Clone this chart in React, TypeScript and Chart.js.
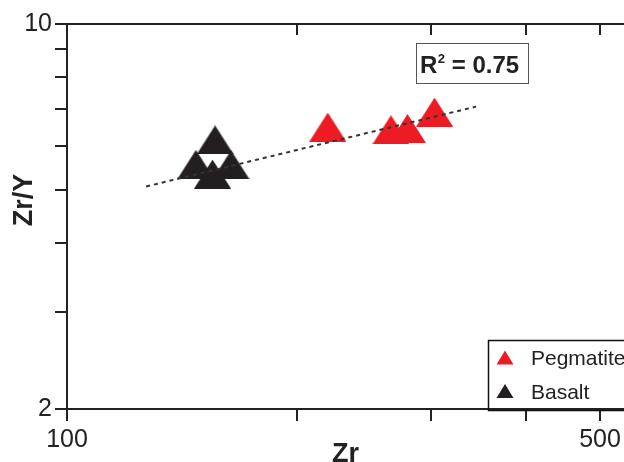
import React, { useEffect, useRef } from 'react';
import { Chart, registerables } from 'chart.js';

Chart.register(...registerables);

// ---- data ----
const seriesNames = ['Pegmatite', 'Basalt'];
const seriesColors = ['#ed1c24', '#231f20'];
const pegmatiteZr = [219.8, 266.0, 279.6, 303.4];
const pegmatiteZrY = [6.5, 6.43, 6.46, 6.92];
const basaltZr = [147.6, 164.1, 155.2, 156.4];
const basaltZrY = [5.56, 5.55, 5.34, 6.16];
const trendZr = [127, 344];
const trendZrY = [5.07, 7.08];
const xTickValues = [100, 200, 300, 400, 500];
const xTickLabels = ['100', '', '', '', '500'];
const yTickValues = [2, 3, 4, 5, 6, 7, 8, 9, 10];
const yTickLabels = ['2', '', '', '', '', '', '', '', '10'];
const xTitle = 'Zr';
const yTitle = 'Zr/Y';
const rSquaredValue = '0.75';

const FONT = "'Liberation Sans', Arial, Helvetica, sans-serif";
const INK = '#222222';

function makeTriangle(color: string, w: number, h: number) {
  const c = document.createElement('canvas');
  c.width = w;
  c.height = h;
  const g = c.getContext('2d')!;
  g.fillStyle = color;
  g.beginPath();
  g.moveTo(w / 2, 0);
  g.lineTo(w, h);
  g.lineTo(0, h);
  g.closePath();
  g.fill();
  return c;
}

function drawTri(ctx: CanvasRenderingContext2D, cx: number, cy: number, w: number, h: number, color: string) {
  ctx.fillStyle = color;
  ctx.beginPath();
  ctx.moveTo(cx, cy - h / 2);
  ctx.lineTo(cx + w / 2, cy + h / 2);
  ctx.lineTo(cx - w / 2, cy + h / 2);
  ctx.closePath();
  ctx.fill();
}

const extrasPlugin = {
  id: 'extras',
  afterDraw(chart: any) {
    const ctx: CanvasRenderingContext2D = chart.ctx;
    ctx.save();
    // y axis title
    ctx.save();
    ctx.translate(25, 200);
    ctx.rotate(-Math.PI / 2);
    ctx.font = `bold 27px ${FONT}`;
    ctx.fillStyle = INK;
    ctx.textAlign = 'center';
    ctx.textBaseline = 'middle';
    ctx.fillText(yTitle, 0, 0);
    ctx.restore();

    // R^2 box
    ctx.strokeStyle = '#555';
    ctx.lineWidth = 1;
    ctx.strokeRect(416.5, 43.5, 112, 40);
    ctx.fillStyle = INK;
    ctx.textAlign = 'left';
    ctx.textBaseline = 'alphabetic';
    ctx.font = `bold 24px ${FONT}`;
    let x = 420;
    ctx.fillText('R', x, 73);
    x += ctx.measureText('R').width;
    ctx.font = `bold 13px ${FONT}`;
    ctx.fillText('2', x + 0.5, 63);
    x += ctx.measureText('2').width + 0.5;
    ctx.font = `bold 24px ${FONT}`;
    ctx.fillText(' = ' + rSquaredValue, x, 73);

    // legend
    const lx = 488.5, ly = 340.5;
    ctx.strokeStyle = '#111';
    ctx.lineWidth = 1.5;
    ctx.strokeRect(lx, ly, 160, 70);
    const ds = chart.data.datasets.filter((d: any) => d.label && seriesNames.includes(d.label));
    ds.forEach((d: any, i: number) => {
      const cy = 357.5 + i * 33.5;
      drawTri(ctx, 505, cy, 17, 14, d.backgroundColor);
      ctx.fillStyle = INK;
      ctx.font = `21px ${FONT}`;
      ctx.textBaseline = 'alphabetic';
      ctx.fillText(d.label, 531, cy + 7.5);
    });
    ctx.restore();
  },
};

export default function App() {
  const ref = useRef<HTMLCanvasElement>(null);
  useEffect(() => {
    const redTri = makeTriangle(seriesColors[0], 37, 29);
    const blackTri = makeTriangle(seriesColors[1], 37, 29);
    const pegData = pegmatiteZr.map((v, i) => ({ x: v, y: pegmatiteZrY[i] }));
    const basData = basaltZr.map((v, i) => ({ x: v, y: basaltZrY[i] }));
    const trendData = trendZr.map((v, i) => ({ x: v, y: trendZrY[i] }));

    const fixTicks = (values: number[]) => (scale: any) => {
      scale.ticks = values.map((v) => ({ value: v }));
    };
    const gridCfg = {
      drawOnChartArea: false,
      drawTicks: true,
      tickLength: 12,
      color: INK,
      lineWidth: 2,
    };
    const borderCfg = { display: true, color: INK, width: 2 };

    const chart = new Chart(ref.current!, {
      type: 'scatter',
      data: {
        datasets: [
          {
            label: 'trend',
            data: trendData,
            showLine: true,
            borderColor: '#333',
            borderWidth: 2,
            borderDash: [4, 4],
            pointRadius: 0,
            fill: false,
          },
          {
            label: seriesNames[0],
            data: pegData,
            backgroundColor: seriesColors[0],
            borderColor: seriesColors[0],
            pointStyle: redTri,
            pointRadius: 12,
          },
          {
            label: seriesNames[1],
            data: basData,
            backgroundColor: seriesColors[1],
            borderColor: seriesColors[1],
            pointStyle: blackTri,
            pointRadius: 12,
          },
        ],
      } as any,
      options: {
        responsive: false,
        devicePixelRatio: 1,
        animation: false,
        layout: { autoPadding: false, padding: { top: 24, left: 0, right: 0, bottom: 0 } },
        plugins: {
          legend: { display: false },
          tooltip: { enabled: false },
        },
        scales: {
          x: {
            type: 'logarithmic',
            position: 'bottom',
            min: 100,
            max: 537.6,
            afterBuildTicks: fixTicks(xTickValues),
            afterFit: (s: any) => {
              s.height = 53;
              s.paddingLeft = 0;
              s.paddingRight = 0;
            },
            grid: gridCfg,
            border: borderCfg,
            ticks: {
              autoSkip: false,
              maxRotation: 0,
              padding: 4,
              color: INK,
              font: { size: 25, family: FONT },
              callback: (_v: any, i: number) => xTickLabels[i],
            },
            title: {
              display: true,
              text: xTitle,
              color: INK,
              font: { size: 27, weight: 'bold', family: FONT, lineHeight: 0.56 },
              padding: 0,
            },
          },
          xTop: {
            type: 'logarithmic',
            position: 'top',
            min: 100,
            max: 537.6,
            afterBuildTicks: fixTicks(xTickValues),
            afterFit: (s: any) => {
              s.height = 0;
              s.paddingLeft = 0;
              s.paddingRight = 0;
            },
            grid: { ...gridCfg, tickLength: -11 },
            border: borderCfg,
            ticks: { display: false },
          },
          y: {
            type: 'logarithmic',
            position: 'left',
            min: 2,
            max: 10,
            afterBuildTicks: fixTicks(yTickValues),
            afterFit: (s: any) => {
              s.width = 67;
              s.paddingTop = 0;
              s.paddingBottom = 0;
            },
            grid: gridCfg,
            border: borderCfg,
            ticks: {
              autoSkip: false,
              padding: 3,
              color: INK,
              font: { size: 25, family: FONT },
              callback: (_v: any, i: number) => yTickLabels[i],
            },
          },
        },
      } as any,
      plugins: [extrasPlugin],
    });
    return () => chart.destroy();
  }, []);

  return (
    <canvas
      ref={ref}
      width={624}
      height={462}
      style={{ position: 'fixed', left: 0, top: 0, width: 624, height: 462, display: 'block', background: '#fff' }}
    />
  );
}
